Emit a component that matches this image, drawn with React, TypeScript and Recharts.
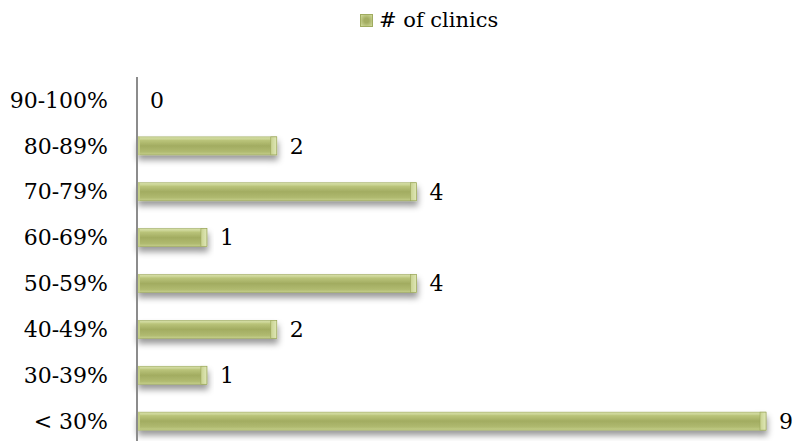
import React from "react";
import { BarChart, Bar, XAxis, YAxis, LabelList } from "recharts";

const categories = ["90-100%", "80-89%", "70-79%", "60-69%", "50-59%", "40-49%", "30-39%", "< 30%"];
const clinicCounts = [0, 2, 4, 1, 4, 2, 1, 9];
const seriesName = "# of clinics";

const data = categories.map((range, i) => ({ range, clinics: clinicCounts[i] }));

const FONT = "'DejaVu Serif', serif";

// Bevelled olive bar with a soft drop shadow
const BevelBar = (props: any) => {
  const { x, y, width, height } = props;
  if (!width || width <= 0) return null;
  const cap = Math.min(6, width / 3);
  return (
    <g filter="url(#barShadow)">
      <rect x={x} y={y} width={width} height={height} fill="url(#barBody)" stroke="#9aa65a" strokeWidth={0.6} />
      <rect x={x + 1} y={y + 3} width={Math.max(0, width - 2)} height={height - 6} fill="url(#barCore)" />
      <rect x={x + width - cap} y={y} width={cap} height={height} fill="url(#barCap)" stroke="#9aa65a" strokeWidth={0.6} />
      <rect x={x} y={y} width={3} height={height} fill="#c4ce88" />
    </g>
  );
};

const LegendBox = () => (
  <div
    style={{
      position: "absolute",
      top: 8,
      left: 360,
      display: "flex",
      alignItems: "center",
      fontFamily: FONT,
      fontSize: 21,
      color: "#000",
      whiteSpace: "nowrap",
    }}
  >
    <span
      style={{
        display: "inline-block",
        width: 13,
        height: 13,
        marginRight: 6,
        background: "radial-gradient(circle, #a3ad62 30%, #d2dc9c 100%)",
        border: "1px solid #a0ac60",
        boxSizing: "border-box",
      }}
    />
    <span>{seriesName}</span>
  </div>
);

export default function App() {
  return (
    <div style={{ position: "fixed", left: 0, top: 0, width: 796, height: 441, overflow: "hidden", background: "#fff" }}>
      <LegendBox />
      <BarChart
        width={796}
        height={444}
        data={data}
        layout="vertical"
        margin={{ top: 77, right: 30, bottom: 0, left: 0 }}
        barSize={18}
        style={{ overflow: "visible" }}
      >
        <defs>
          <linearGradient id="barBody" x1="0" y1="0" x2="0" y2="1">
            <stop offset="0%" stopColor="#d8e1aa" />
            <stop offset="20%" stopColor="#c0ca84" />
            <stop offset="80%" stopColor="#acb76c" />
            <stop offset="100%" stopColor="#c6cf8c" />
          </linearGradient>
          <linearGradient id="barCore" x1="0" y1="0" x2="0" y2="1">
            <stop offset="0%" stopColor="#bcc67c" />
            <stop offset="50%" stopColor="#a2ac61" />
            <stop offset="100%" stopColor="#b0ba70" />
          </linearGradient>
          <linearGradient id="barCap" x1="0" y1="0" x2="1" y2="0">
            <stop offset="0%" stopColor="#c8d290" />
            <stop offset="100%" stopColor="#e0e8b8" />
          </linearGradient>
          <filter id="barShadow" x="-10%" y="-40%" width="120%" height="220%">
            <feDropShadow dx="1" dy="5" stdDeviation="3" floodColor="#000" floodOpacity="0.4" />
          </filter>
        </defs>
        <XAxis type="number" domain={[0, 9]} hide />
        <YAxis
          type="category"
          dataKey="range"
          width={137}
          axisLine={{ stroke: "#8c8c8c", strokeWidth: 2 }}
          tickLine={false}
          tickSize={0}
          tickMargin={29}
          tick={{ fill: "#000", fontSize: 22, fontFamily: FONT }}
          interval={0}
        />
        <Bar dataKey="clinics" name={seriesName} shape={<BevelBar />} isAnimationActive={false}>
          <LabelList
            dataKey="clinics"
            position="right"
            offset={13}
            style={{ fill: "#000", fontSize: 22, fontFamily: FONT }}
          />
        </Bar>
      </BarChart>
    </div>
  );
}
